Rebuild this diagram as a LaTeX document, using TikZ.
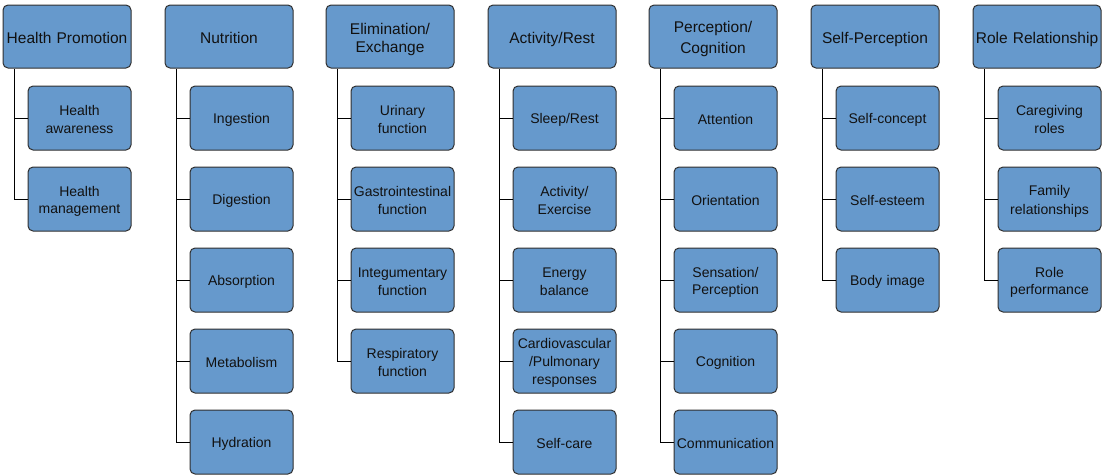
\documentclass[tikz,border=0pt]{standalone}
\usepackage{fontspec}
\setmainfont{Liberation Sans}
\definecolor{boxfill}{HTML}{6699CC}
\definecolor{boxline}{HTML}{2F2F2F}
\definecolor{txt}{HTML}{111111}
\newcommand{\mystrut}{\rule[-0.1em]{0pt}{1.15em}}
\begin{document}
\begin{tikzpicture}[x=1pt,y=-1pt,
  base/.style={draw=boxline, line width=1pt, fill=boxfill, rounded corners=5pt,
    align=center, text=txt, inner sep=1pt,
    execute at begin node={\mystrut}, execute at end node={\mystrut}},
  head/.style={base, minimum width=128pt, minimum height=63pt, text width=126pt,
    font=\fontsize{15.5}{18}\selectfont},
  kid/.style={base, minimum width=103pt, minimum height=64pt, text width=101pt,
    font=\fontsize{14}{17.5}\selectfont},
  link/.style={draw=black, line width=1pt}]
\useasboundingbox (0,0) rectangle (1102,475);
% headers
\node[head] (h1) at (67,36.5) {Health Promotion};
\node[head] (h2) at (229,36.5) {Nutrition};
\node[head] (h3) at (390,36.5) {Elimination/\\Exchange};
\node[head] (h4) at (552,36.5) {Activity/Rest};
\node[head] (h5) at (713,36.5) {Perception/\\Cognition};
\node[head] (h6) at (875,36.5) {Self-Perception};
\node[head] (h7) at (1037,36.5) {Role Relationship};
% children col 1
\node[kid] (c11) at (79.5,118) {Health\\awareness};
\node[kid] (c12) at (79.5,199) {Health\\management};
% col 2
\node[kid] (c21) at (241.5,118) {Ingestion};
\node[kid] (c22) at (241.5,199) {Digestion};
\node[kid] (c23) at (241.5,280) {Absorption};
\node[kid] (c24) at (241.5,361) {Metabolism};
\node[kid] (c25) at (241.5,442) {Hydration};
% col 3
\node[kid] (c31) at (402.5,118) {Urinary\\function};
\node[kid] (c32) at (402.5,199) {Gastrointestinal\\function};
\node[kid] (c33) at (402.5,280) {Integumentary\\function};
\node[kid] (c34) at (402.5,361) {Respiratory\\function};
% col 4
\node[kid] (c41) at (564.5,118) {Sleep/Rest};
\node[kid] (c42) at (564.5,199) {Activity/\\Exercise};
\node[kid] (c43) at (564.5,280) {Energy\\balance};
\node[kid] (c44) at (564.5,361) {Cardiovascular\\/Pulmonary\\responses};
\node[kid] (c45) at (564.5,442) {Self-care};
% col 5
\node[kid] (c51) at (725.5,118) {Attention};
\node[kid] (c52) at (725.5,199) {Orientation};
\node[kid] (c53) at (725.5,280) {Sensation/\\Perception};
\node[kid] (c54) at (725.5,361) {Cognition};
\node[kid] (c55) at (725.5,442) {Communication};
% col 6
\node[kid] (c61) at (887.5,118) {Self-concept};
\node[kid] (c62) at (887.5,199) {Self-esteem};
\node[kid] (c63) at (887.5,280) {Body image};
% col 7
\node[kid] (c71) at (1049.5,118) {Caregiving\\roles};
\node[kid] (c72) at (1049.5,199) {Family\\relationships};
\node[kid] (c73) at (1049.5,280) {Role\\performance};
% connectors
\foreach \h/\list in {h1/{c11,c12}, h2/{c21,c22,c23,c24,c25}, h3/{c31,c32,c33,c34},
  h4/{c41,c42,c43,c44,c45}, h5/{c51,c52,c53,c54,c55}, h6/{c61,c62,c63}, h7/{c71,c72,c73}}{
  \foreach \c in \list {
    \draw[link] ([xshift=12pt,yshift=-0.5pt]\h.south west) |- (\c.west);
  }
}
\end{tikzpicture}
\end{document}
